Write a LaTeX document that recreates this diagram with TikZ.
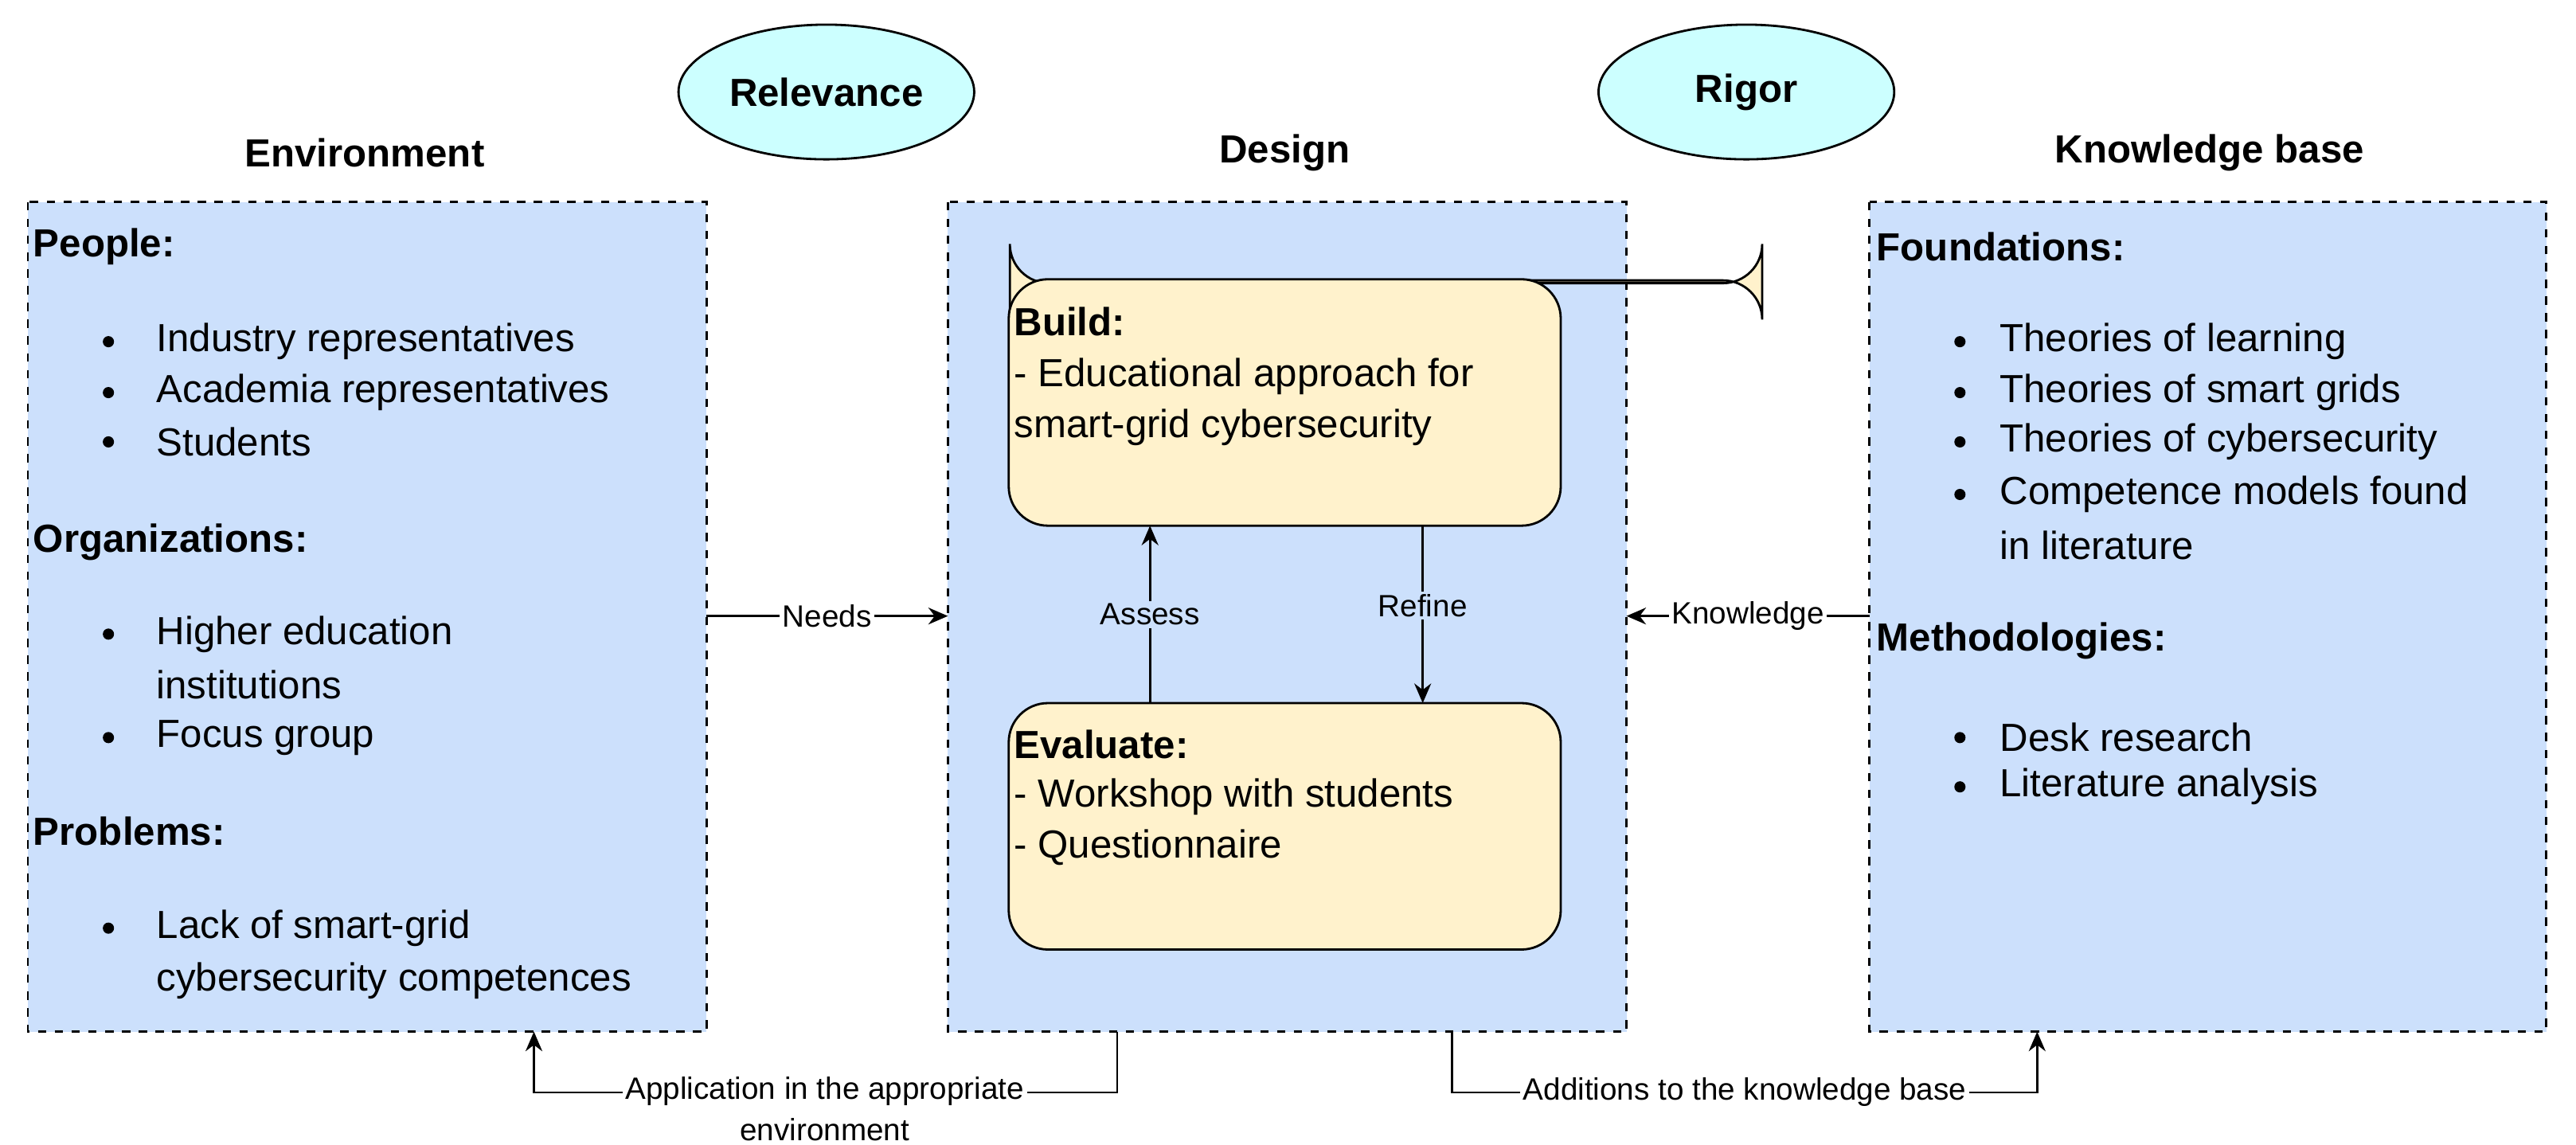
\documentclass[tikz,border=0pt]{standalone}
\usepackage{fontspec}
\setmainfont{Liberation Sans}
\usetikzlibrary{arrows.meta}
\definecolor{bblue}{HTML}{CCE0FC}
\definecolor{byel}{HTML}{FFF2CC}
\definecolor{bcyan}{HTML}{CCFFFF}
\begin{document}
\begin{tikzpicture}[x=0.02063cm,y=-0.02063cm,
  panel/.style={draw,thick,dashed,fill=bblue},
  inner/.style={draw,thick,fill=byel,rounded corners=14pt},
  ell/.style={draw,thick,fill=bcyan,ellipse,minimum width=185\pgflinewidth},
  t/.style={anchor=west,inner sep=0,font=\fontsize{14}{16}\selectfont},
  h/.style={t,font=\fontsize{14}{16}\selectfont\bfseries},
  ttl/.style={inner sep=0,font=\fontsize{14}{16}\selectfont\bfseries},
  lab/.style={inner sep=1pt,font=\fontsize{11}{13}\selectfont},
  arr/.style={thick,-{Stealth[length=7pt,width=6pt]}},
  bul/.style={circle,fill,inner sep=0,minimum size=4pt}]
\useasboundingbox (0,0) rectangle (1568,697);
% panels
\draw[panel] (17,123) rectangle (430,628);
\draw[panel] (577,123) rectangle (990,628);
\draw[panel] (1138,123) rectangle (1550,628);
\coordinate (envE) at (430,375); \coordinate (desW) at (577,375);
\coordinate (desE) at (990,375); \coordinate (kbW) at (1138,375);
% ellipses
\draw[thick,fill=bcyan] (503,56) ellipse (90 and 41);
\node[ttl] (rel) at (503,56) {Relevance};
\draw[thick,fill=bcyan] (1063,56) ellipse (90 and 41);
\node[ttl] (rig) at (1063,56) {Rigor};
% titles
\node[ttl] (tenv) at (222,93) {Environment};
\node[ttl] (tdes) at (782,93) {Design};
\node[ttl] (tkb) at (1345,93) {Knowledge base};
% left text
\node[h] (p1) at (20,150) {People:};
\foreach \y/\s [count=\i] in {208/Industry representatives,239/Academia representatives,269/Students,386/Higher education,417/institutions,449/Focus group,565/Lack of smart-grid,597/cybersecurity competences}{
  \node[t] (l\i) at (95,\y) {\s};}
\foreach \y in {208,239,269,386,449,565}{\node[bul] at (66,\y) {};}
\node[h] (p2) at (20,330) {Organizations:};
\node[h] (p3) at (20,506) {Problems:};
% right text
\node[h] (f1) at (1142,150) {Foundations:};
\node[h] (f2) at (1142,390) {Methodologies:};
\foreach \y/\s [count=\i] in {208/Theories of learning,239/Theories of smart grids,269/Theories of cybersecurity,301/Competence models found,332/in literature,449/Desk research,479/Literature analysis}{
  \node[t] (r\i) at (1217,\y) {\s};}
\foreach \y in {208,239,269,301,449,479}{\node[bul] at (1193,\y) {};}
% inner boxes
\node[inner,minimum width=336\pgflinewidth,anchor=north west,inner sep=0] (build) at (614,170) {};
\draw[inner] (614,170) rectangle (950,320);
\draw[inner] (614,428) rectangle (950,578);
\node[h] (b1) at (617,196) {Build:};
\node[t] (b2) at (617,229) {- Educational approach for};
\node[t] (b3) at (617,260) {smart-grid cybersecurity};
\node[h] (e1) at (617,453) {Evaluate:};
\node[t] (e2) at (617,485) {- Workshop with students};
\node[t] (e3) at (617,516) {- Questionnaire};
\coordinate (bA) at (700,320); \coordinate (eA) at (700,428);
\coordinate (bR) at (866,320); \coordinate (eR) at (866,428);
\draw[arr] (eA) -- node[lab,fill=bblue] {Assess} (bA);
\draw[arr] (bR) -- node[lab,fill=bblue,pos=0.45] {Refine} (eR);
\draw[arr] (envE) -- node[lab,fill=white] {Needs} (desW);
\draw[arr] (kbW) -- node[lab,fill=white] {Knowledge} (desE);
% bottom
\coordinate (d1) at (680,628); \coordinate (envS) at (325,628);
\coordinate (d2) at (884,628); \coordinate (kbS) at (1240,628);
\draw[arr] (d1) -- (680,665) -- (325,665) -- (envS);
\node[lab,fill=white,align=center,font=\fontsize{11}{15}\selectfont] (app) at (502,675) {Application in the appropriate\\environment};
\draw[arr] (d2) -- (884,665) -- (1240,665) -- (kbS);
\node[lab,fill=white] (add) at (1062,665) {Additions to the knowledge base};
\end{tikzpicture}
\end{document}
